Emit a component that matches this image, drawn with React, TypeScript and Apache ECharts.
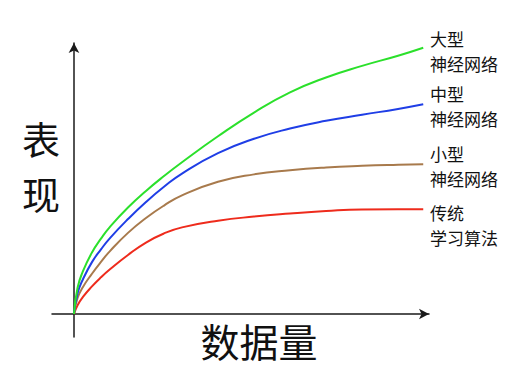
import React, { useEffect, useRef } from "react";
import * as echarts from "echarts";

const xs = [0, 1, 2.5, 5, 7.5, 10, 15, 20, 25, 30, 40, 50, 60, 70, 80, 90, 97];
const largeNN = [0, 9.5, 15.5, 22.3, 27.3, 31.6, 38.6, 44.6, 50.0, 55.0, 64.4, 73.0, 80.3, 85.7, 89.9, 93.6, 96.5];
const mediumNN = [0, 7.5, 12.6, 18.8, 23.4, 27.5, 34.4, 40.6, 46.1, 50.9, 58.3, 63.5, 67.2, 70.0, 72.2, 74.3, 76.0];
const smallNN = [0, 5.8, 9.8, 14.6, 18.9, 22.8, 29.4, 34.8, 39.3, 43.0, 47.9, 50.6, 52.1, 53.1, 53.7, 54.1, 54.3];
const traditional = [0, 3.2, 6.2, 10.0, 13.3, 16.2, 21.4, 25.9, 29.2, 31.4, 33.8, 35.3, 36.4, 37.3, 37.9, 38.0, 38.0];

const seriesNames = ["大型\n神经网络", "中型\n神经网络", "小型\n神经网络", "传统\n学习算法"];
const seriesColors = ["#2be02b", "#1f3ee6", "#a87a4c", "#ee2b1c"];
const seriesValues = [largeNN, mediumNN, smallNN, traditional];
const labelTops = [26, 81, 141, 200];

const xLabel = "数据量";
const yLabel = "表\n现";

export default function App() {
  const ref = useRef<HTMLDivElement>(null);
  useEffect(() => {
    if (!ref.current) return;
    const chart = echarts.init(ref.current, null, { renderer: "svg" });
    const font = '"Noto Sans CJK SC", "Noto Sans", sans-serif';
    chart.setOption({
      animation: false,
      backgroundColor: "#ffffff",
      grid: { left: 52, right: 98, top: 43, bottom: 45, containLabel: false },
      xAxis: {
        type: "value",
        min: -6.1,
        max: 98.6,
        axisLine: {
          show: true,
          onZero: true,
          symbol: ["none", "arrow"],
          symbolSize: [8, 10],
          lineStyle: { color: "#1a1a1a", width: 1.5 },
        },
        axisTick: { show: false },
        axisLabel: { show: false },
        splitLine: { show: false },
      },
      yAxis: {
        type: "value",
        min: -8.33,
        max: 98.2,
        axisLine: {
          show: true,
          onZero: true,
          symbol: ["none", "arrow"],
          symbolSize: [8, 10],
          lineStyle: { color: "#1a1a1a", width: 1.5 },
        },
        axisTick: { show: false },
        axisLabel: { show: false },
        splitLine: { show: false },
      },
      series: seriesValues.map((vals, i) => ({
        type: "line",
        name: seriesNames[i],
        data: xs.map((x, j) => [x, vals[j]]),
        smooth: true,
        showSymbol: false,
        lineStyle: { color: seriesColors[i], width: 2 },
        z: 10 - i,
      })),
      graphic: [
        ...seriesNames.map((name, i) => ({
          type: "text",
          x: 430,
          y: labelTops[i],
          style: {
            text: name,
            fontSize: 17,
            lineHeight: 25,
            fontFamily: font,
            fill: "#111111",
            textVerticalAlign: "top",
          },
        })),
        {
          type: "text",
          x: 41,
          y: 110,
          style: {
            text: yLabel,
            fontSize: 38,
            lineHeight: 55,
            fontFamily: font,
            fill: "#111111",
            textAlign: "center",
            textVerticalAlign: "top",
          },
        },
        {
          type: "text",
          x: 259,
          y: 340,
          style: {
            text: xLabel,
            fontSize: 39,
            fontFamily: font,
            fill: "#111111",
            textAlign: "center",
            textVerticalAlign: "middle",
          },
        },
      ],
    });
    return () => chart.dispose();
  }, []);
  return <div ref={ref} style={{ width: 527, height: 382, position: "absolute", left: 0, top: 0 }} />;
}
